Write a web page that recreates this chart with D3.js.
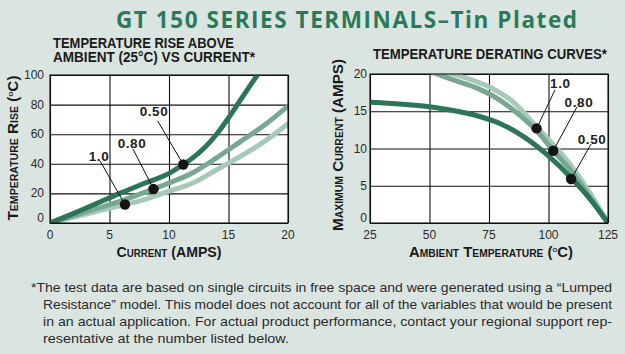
<!DOCTYPE html>
<html><head><meta charset="utf-8">
<script src="https://cdn.jsdelivr.net/npm/d3@7"></script>
<style>
html,body{margin:0;padding:0;background:#dae5e1;}
svg{display:block;}
</style></head>
<body>
<svg id="chart" width="625" height="354"></svg>
<script>
// ---------- DATA ----------
const title = "GT 150 SERIES TERMINALS\u2013Tin Plated";
const leftTitle = ["TEMPERATURE RISE ABOVE", "AMBIENT (25\u00B0C) VS CURRENT*"];
const rightTitle = "TEMPERATURE DERATING CURVES*";

const riseXTicks = [0, 5, 10, 15, 20];
const riseYTicks = [0, 20, 40, 60, 80, 100];
const derXTicks = [25, 50, 75, 100, 125];
const derYTicks = [0, 5, 10, 15, 20];

// Temperature rise vs current (x = amps, y = deg C)
const rise050X = [0, 2, 4, 6, 8, 10, 11.2, 12, 13, 14, 15, 16, 17, 17.6];
const rise050Y = [0, 6.5, 13.5, 20.5, 27, 33.5, 39.5, 44, 51, 60, 71, 83, 95, 102];
const rise080X = [0, 2, 4, 6, 8.7, 10, 12, 14, 16, 18, 20];
const rise080Y = [0, 5, 10, 15, 23, 27, 34, 44, 55, 66, 79];
const rise100X = [0, 2, 4, 6.3, 8, 10, 12, 14, 16, 18, 20];
const rise100Y = [0, 4, 8, 12.5, 16, 21.5, 27, 36, 45, 55, 67];

// Derating (x = ambient deg C, y = max amps)
const der050X = [25, 40, 50, 60, 70, 80, 90, 100, 110, 118, 125];
const der050Y = [16.2, 15.9, 15.6, 15.1, 14.4, 13.3, 11.5, 9.0, 5.9, 3.0, 0];
const der080X = [49, 60, 70, 80, 90, 95, 102, 110, 118, 125];
const der080Y = [20.5, 19.2, 18.1, 16.4, 13.9, 12.4, 9.7, 6.8, 3.2, 0];
const der100X = [55, 65, 75, 85, 95, 100, 110, 118, 125];
const der100Y = [20.4, 19.5, 18.3, 16.3, 12.9, 11.2, 7.5, 3.7, 0];

// Callouts: label, dot [x,y], text centre [x,y], leader start [x,y] (data units)
const riseCallouts = [
  {label: "0.50", dot: [11.2, 39.5], text: [8.74, 75.7], lead: [9.05, 69]},
  {label: "0.80", dot: [8.7, 23], text: [6.89, 54], lead: [6.97, 50]},
  {label: "1.0", dot: [6.3, 12.5], text: [4.12, 45.3], lead: [4.2, 42]}
];
const derCallouts = [
  {label: "1.0", dot: [95, 12.7], text: [105, 18.8], lead: [102.7, 17.85]},
  {label: "0.80", dot: [102, 9.7], text: [112.8, 16.2], lead: [112, 15.6]},
  {label: "0.50", dot: [109.5, 5.9], text: [118.3, 11.3], lead: [117.9, 10.6]}
];

const footnote = [
  "*The test data are based on single circuits in free space and were generated using a \u201CLumped",
  "Resistance\u201D model. This model does not account for all of the variables that would be present",
  "in an actual application. For actual product performance, contact your regional support rep-",
  "resentative at the number listed below."
];

// ---------- STYLE ----------
const colors = {dark: "#2c7657", mid: "#78a892", light: "#a7c9ba"};
const svg = d3.select("#chart");
const SANS = '"Liberation Sans",Arial,Helvetica,sans-serif';

// Main title
svg.append("text").attr("x", 116).attr("y", 28)
  .attr("font-family", '"Open Sans",sans-serif').attr("font-weight", 700)
  .attr("font-size", 22.5).attr("fill", "#2a7a5a")
  .attr("textLength", 461).attr("lengthAdjust", "spacing")
  .text(title);

// Sub titles
function subTitle(txt, x, y, len) {
  svg.append("text").attr("x", x).attr("y", y).attr("font-family", SANS)
    .attr("font-weight", 700).attr("font-size", 14).attr("fill", "#1a1a1a")
    .attr("textLength", len).attr("lengthAdjust", "spacingAndGlyphs").text(txt);
}
subTitle(leftTitle[0], 53, 47.5, 181);
subTitle(leftTitle[1], 53, 62, 202);
subTitle(rightTitle, 373, 59, 234);

function drawChart(cfg) {
  const x = d3.scaleLinear().domain(cfg.xDomain).range([cfg.x0, cfg.x1]);
  const y = d3.scaleLinear().domain(cfg.yDomain).range([cfg.y1, cfg.y0]);
  const g = svg.append("g");
  const clipId = "clip" + cfg.id;
  svg.append("clipPath").attr("id", clipId).append("rect")
    .attr("x", cfg.x0).attr("y", cfg.y0).attr("width", cfg.x1 - cfg.x0).attr("height", cfg.y1 - cfg.y0);

  g.append("rect").attr("x", cfg.x0).attr("y", cfg.y0)
    .attr("width", cfg.x1 - cfg.x0).attr("height", cfg.y1 - cfg.y0).attr("fill", "#fff");

  // grid
  g.append("g").attr("transform", `translate(0,${cfg.y1})`)
    .call(d3.axisBottom(x).tickValues(cfg.xTicks).tickSize(-(cfg.y1 - cfg.y0)).tickFormat(""))
    .call(s => s.select(".domain").remove())
    .call(s => s.selectAll("line").attr("stroke", "#111").attr("stroke-width", 1.1));
  g.append("g").attr("transform", `translate(${cfg.x0},0)`)
    .call(d3.axisLeft(y).tickValues(cfg.yTicks).tickSize(-(cfg.x1 - cfg.x0)).tickFormat(""))
    .call(s => s.select(".domain").remove())
    .call(s => s.selectAll("line").attr("stroke", "#111").attr("stroke-width", 1.1));

  // tick labels
  const tl = svg.append("g").attr("font-family", SANS).attr("font-size", 12).attr("fill", "#2a2a2a");
  tl.selectAll(".xl").data(cfg.xTicks).join("text")
    .attr("x", d => x(d)).attr("y", cfg.y1 + 16).attr("text-anchor", "middle").text(d => d);
  tl.selectAll(".yl").data(cfg.yTicks).join("text")
    .attr("x", cfg.x0 - cfg.yLabelGap).attr("y", d => y(d) + 4 - (d === 0 ? 5 : 0))
    .attr("text-anchor", "end").text(d => d);

  // curves
  const line = d3.line().x(d => x(d[0])).y(d => y(d[1])).curve(d3.curveMonotoneX);
  const cg = g.append("g").attr("clip-path", `url(#${clipId})`);
  cfg.series.forEach(s => {
    cg.append("path").datum(d3.zip(s.x, s.y)).attr("d", line)
      .attr("fill", "none").attr("stroke", s.color).attr("stroke-width", 5)
      .attr("stroke-linecap", "round");
  });

  // border
  g.append("rect").attr("x", cfg.x0).attr("y", cfg.y0)
    .attr("width", cfg.x1 - cfg.x0).attr("height", cfg.y1 - cfg.y0)
    .attr("fill", "none").attr("stroke", "#111").attr("stroke-width", 1.1);

  // callouts
  cfg.callouts.forEach(c => {
    svg.append("line").attr("x1", x(c.lead[0])).attr("y1", y(c.lead[1]))
      .attr("x2", x(c.dot[0])).attr("y2", y(c.dot[1])).attr("stroke", "#111").attr("stroke-width", 1);
    svg.append("circle").attr("cx", x(c.dot[0])).attr("cy", y(c.dot[1])).attr("r", 5.2).attr("fill", "#151515");
    svg.append("text").attr("x", x(c.text[0])).attr("y", y(c.text[1]) + 5)
      .attr("text-anchor", "middle").attr("font-family", SANS)
      .attr("font-weight", 700).attr("font-size", 13.5).attr("fill", "#222")
      .attr("letter-spacing", 0.6).text(c.label);
  });

  // axis titles
  const xt = svg.append("text").attr("x", cfg.xTitlePos[0]).attr("y", cfg.xTitlePos[1])
    .attr("text-anchor", "middle").attr("font-family", SANS).attr("font-weight", 700)
    .attr("font-size", 14.5).attr("fill", "#1a1a1a").style("font-variant", "small-caps")
    .attr("textLength", cfg.xTitleLen).attr("lengthAdjust", "spacingAndGlyphs");
  cfg.xTitle(xt);
  const yt = svg.append("text")
    .attr("transform", `translate(${cfg.yTitlePos[0]},${cfg.yTitlePos[1]}) rotate(-90)`)
    .attr("text-anchor", "middle").attr("font-family", SANS).attr("font-weight", 700)
    .attr("font-size", 14.5).attr("fill", "#1a1a1a").style("font-variant", "small-caps")
    .attr("textLength", cfg.yTitleLen).attr("lengthAdjust", "spacingAndGlyphs");
  cfg.yTitle(yt);
}

function degC(t, before) {
  t.append("tspan").text(before + "(");
  t.append("tspan").attr("font-size", 9).attr("dy", -5).text("o");
  t.append("tspan").attr("dy", 5).text("C)");
}

drawChart({
  id: "L", x0: 50, x1: 288, y0: 75, y1: 223, yLabelGap: 6,
  xDomain: [0, 20], yDomain: [0, 100], xTicks: riseXTicks, yTicks: riseYTicks,
  series: [
    {x: rise100X, y: rise100Y, color: colors.light},
    {x: rise080X, y: rise080Y, color: colors.mid},
    {x: rise050X, y: rise050Y, color: colors.dark}
  ],
  callouts: riseCallouts,
  xTitlePos: [169, 257], xTitleLen: 105, xTitle: t => t.text("Current (AMPS)"),
  yTitlePos: [18, 148], yTitleLen: 145, yTitle: t => degC(t, "Temperature Rise ")
});

drawChart({
  id: "R", x0: 370, x1: 608, y0: 74, y1: 223, yLabelGap: 3,
  xDomain: [25, 125], yDomain: [0, 20], xTicks: derXTicks, yTicks: derYTicks,
  series: [
    {x: der100X, y: der100Y, color: colors.light},
    {x: der080X, y: der080Y, color: colors.mid},
    {x: der050X, y: der050Y, color: colors.dark}
  ],
  callouts: derCallouts,
  xTitlePos: [491, 257], xTitleLen: 164, xTitle: t => degC(t, "Ambient Temperature "),
  yTitlePos: [343, 145], yTitleLen: 172, yTitle: t => t.text("Maximum Current (AMPS)")
});

// footnote
const fn = svg.append("g").attr("font-family", SANS).attr("font-size", 13.5).attr("fill", "#2a2a2a");
fn.selectAll("text").data(footnote).join("text")
  .attr("x", (d, i) => i === 0 ? 31 : 43)
  .attr("y", (d, i) => 292 + i * 17)
  .attr("textLength", (d, i) => [581, 569, 569, 246][i])
  .attr("lengthAdjust", "spacingAndGlyphs")
  .text(d => d);
</script>
</body></html>
